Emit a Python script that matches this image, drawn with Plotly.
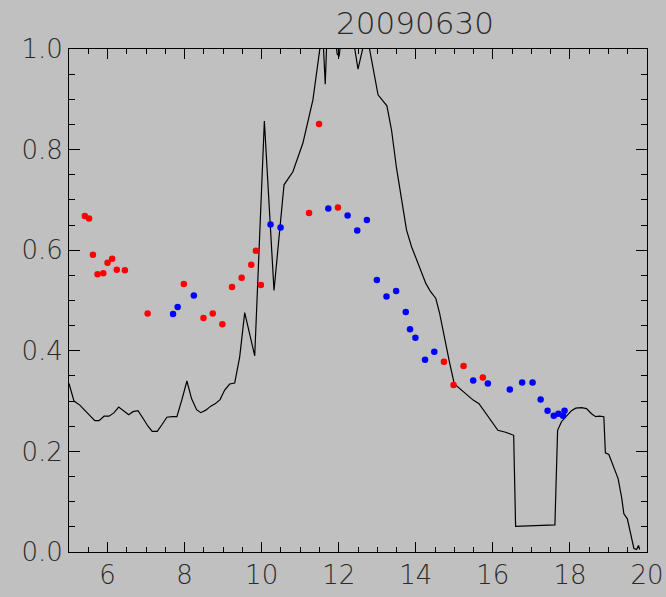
import plotly.graph_objects as go

# Black line series (hour, value)
line_t = [5.00, 5.13, 5.28, 5.41, 5.54, 5.67, 5.78, 5.91, 6.04, 6.17, 6.29, 6.42, 6.55, 6.66, 6.79,
          6.92, 7.05, 7.16, 7.29, 7.42, 7.54, 7.67, 7.80, 7.93, 8.06, 8.18, 8.31, 8.42, 8.55, 8.68,
          8.80, 8.92, 9.04, 9.17, 9.30, 9.43, 9.56, 9.82, 10.07, 10.32, 10.58, 10.81, 11.07, 11.33,
          11.58, 11.65, 11.72, 11.85, 11.96, 12.01, 12.12, 12.25, 12.50, 12.72, 13.02, 13.25, 13.37,
          13.50, 13.63, 13.76, 13.89, 14.02, 14.12, 14.26, 14.38, 14.52, 14.62, 14.75, 14.88, 15.00,
          15.14, 15.31, 15.49, 15.64, 15.79, 15.96, 16.13, 16.33, 16.54, 16.59, 17.61, 17.68, 17.78,
          17.91, 18.04, 18.15, 18.30, 18.43, 18.56, 18.67, 18.77, 18.88, 18.92, 19.01, 19.12, 19.25,
          19.34, 19.40, 19.49, 19.60, 19.66, 19.73, 19.78, 19.81]
line_v = [0.335, 0.300, 0.292, 0.282, 0.270, 0.261, 0.261, 0.270, 0.270, 0.277, 0.288, 0.281, 0.273,
          0.279, 0.281, 0.266, 0.250, 0.240, 0.240, 0.254, 0.268, 0.269, 0.269, 0.303, 0.340, 0.305,
          0.283, 0.277, 0.282, 0.290, 0.295, 0.303, 0.322, 0.334, 0.336, 0.388, 0.476, 0.390, 0.857,
          0.520, 0.730, 0.756, 0.813, 0.899, 1.040, 0.930, 1.080, 1.060, 0.990, 0.985, 1.060, 1.080,
          0.960, 1.033, 0.909, 0.887, 0.839, 0.763, 0.700, 0.640, 0.607, 0.581, 0.564, 0.534, 0.518,
          0.504, 0.474, 0.421, 0.375, 0.334, 0.325, 0.315, 0.302, 0.295, 0.279, 0.259, 0.242, 0.238,
          0.232, 0.051, 0.054, 0.242, 0.259, 0.270, 0.281, 0.286, 0.287, 0.285, 0.275, 0.269, 0.270,
          0.269, 0.197, 0.194, 0.173, 0.146, 0.109, 0.076, 0.066, 0.030, 0.007, 0.005, 0.013, 0.005]

# Red points
red_t = [5.41, 5.52, 5.62, 5.74, 5.89, 6.00, 6.12, 6.24, 6.45, 7.04, 7.98, 8.49, 8.73, 8.98, 9.23,
         9.48, 9.73, 9.85, 9.98, 11.23, 11.49, 11.98, 14.73, 14.98, 15.24, 15.74]
red_v = [0.668, 0.663, 0.591, 0.552, 0.554, 0.575, 0.583, 0.561, 0.560, 0.474, 0.533, 0.465, 0.474,
         0.453, 0.527, 0.545, 0.571, 0.599, 0.531, 0.674, 0.851, 0.685, 0.378, 0.332, 0.370, 0.347]

# Blue points
blue_t = [7.70, 7.82, 8.24, 10.23, 10.49, 11.73, 12.23, 12.48, 12.73, 12.99, 13.24, 13.49, 13.74,
          13.85, 13.99, 14.24, 14.48, 15.49, 15.87, 16.44, 16.76, 17.03, 17.24, 17.42, 17.58, 17.70,
          17.82, 17.86]
blue_v = [0.473, 0.487, 0.510, 0.651, 0.645, 0.683, 0.669, 0.639, 0.660, 0.541, 0.508, 0.519, 0.477,
          0.443, 0.426, 0.382, 0.398, 0.341, 0.335, 0.323, 0.337, 0.337, 0.303, 0.281, 0.271, 0.275,
          0.271, 0.281]

title_text = "20090630"

BG = "#c0c0c0"
FONT = dict(family="DejaVu Sans", size=26, color="#2a2a2a", weight=200)

fig = go.Figure()
fig.add_trace(go.Scatter(x=line_t, y=line_v, mode="lines",
                         line=dict(color="black", width=1.2), hoverinfo="skip"))
fig.add_trace(go.Scatter(x=red_t, y=red_v, mode="markers",
                         marker=dict(color="#ff0000", size=6.5, line=dict(width=0))))
fig.add_trace(go.Scatter(x=blue_t, y=blue_v, mode="markers",
                         marker=dict(color="#0000ff", size=6.5, line=dict(width=0))))

fig.update_xaxes(range=[5, 20], tick0=6, dtick=2, tickmode="linear",
                 ticks="inside", ticklen=10, tickwidth=1, tickcolor="black",
                 minor=dict(tick0=5, dtick=0.5, tickmode="linear", ticks="inside", ticklen=5,
                            tickwidth=1, tickcolor="black", showgrid=False),
                 showgrid=False, zeroline=False, showline=True, linecolor="black", linewidth=1,
                 mirror="allticks", tickfont=FONT, automargin=False)
fig.update_yaxes(range=[0, 1.0], tick0=0, dtick=0.2, tickmode="linear", tickformat=".1f",
                 ticks="inside", ticklen=11, tickwidth=1, tickcolor="black",
                 minor=dict(tick0=0, dtick=0.05, tickmode="linear", ticks="inside", ticklen=6,
                            tickwidth=1, tickcolor="black", showgrid=False),
                 showgrid=False, zeroline=False, showline=True, linecolor="black", linewidth=1,
                 mirror="allticks", tickfont=FONT, automargin=False)

fig.update_layout(
    width=666, height=597,
    margin=dict(l=69, r=19, t=49, b=45, pad=0, autoexpand=False),
    paper_bgcolor=BG, plot_bgcolor=BG,
    showlegend=False,
    title=dict(text=title_text, x=415 / 666, xanchor="center", xref="container",
               y=1 - 23 / 597, yanchor="middle", yref="container",
               font=dict(family="DejaVu Sans", size=31, color="#2a2a2a", weight=200)),
)

fig.write_html("out.html")
